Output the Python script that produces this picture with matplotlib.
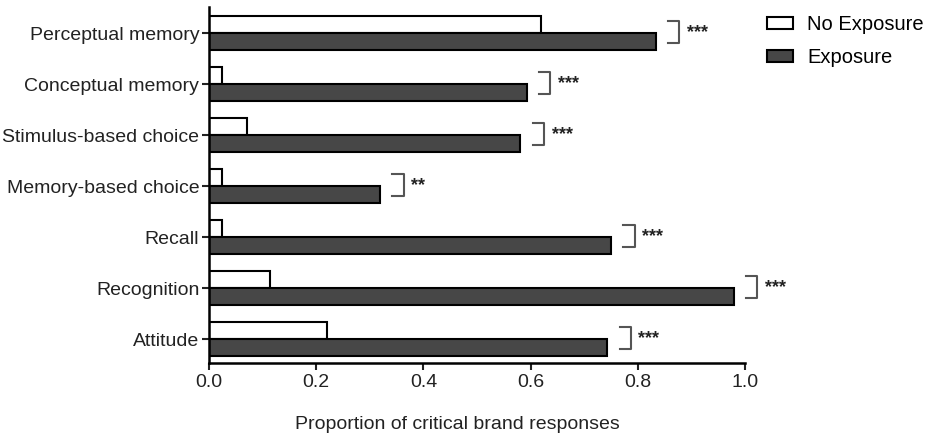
import numpy as np
import matplotlib.pyplot as plt

plt.rcParams['font.family'] = ['Liberation Sans', 'DejaVu Sans']

categories = ["Perceptual memory", "Conceptual memory", "Stimulus-based choice",
              "Memory-based choice", "Recall", "Recognition", "Attitude"]
no_exposure = [0.619, 0.024, 0.071, 0.025, 0.025, 0.114, 0.221]
exposure = [0.833, 0.593, 0.581, 0.319, 0.750, 0.979, 0.743]
stars = ["***", "***", "***", "**", "***", "***", "***"]
xticks = [0.0, 0.2, 0.4, 0.6, 0.8, 1.0]

fig = plt.figure(figsize=(9.29, 4.4), dpi=100)
ax = fig.add_axes([0.225, 0.175, 0.577, 0.809])

y = np.arange(len(categories))[::-1]
h = 0.33
ax.barh(y + h / 2, no_exposure, height=h, color='white', edgecolor='black',
        linewidth=1.5, label='No Exposure')
ax.barh(y - h / 2, exposure, height=h, color='#474747', edgecolor='black',
        linewidth=1.5, label='Exposure')

# significance brackets
for yi, a, b, s in zip(y, no_exposure, exposure, stars):
    x0 = max(a, b) + 0.023
    x1 = x0 + 0.021
    ax.plot([x0, x1, x1, x0], [yi + 0.23, yi + 0.23, yi - 0.2, yi - 0.2],
            color='#555555', lw=1.5, clip_on=False)
    ax.text(x1 + 0.014, yi + 0.0, s, fontsize=13, fontweight='bold',
            va='center', ha='left', color='#222222', clip_on=False)

ax.set_xlim(0, 1.0)
ax.set_ylim(-0.47, 6.51)
ax.set_xticks(xticks)
ax.set_xticklabels([f"{v:.1f}" for v in xticks])
ax.set_yticks(y)
ax.set_yticklabels(categories)
ax.tick_params(axis='both', labelsize=14, width=1.5, length=5, colors='#222222')
ax.tick_params(axis='x', pad=3)
ax.tick_params(axis='y', pad=2)

for side in ['top', 'right']:
    ax.spines[side].set_visible(False)
for side in ['left', 'bottom']:
    ax.spines[side].set_linewidth(1.8)

ax.set_xlabel("Proportion of critical brand responses", fontsize=14, color='#222222')
ax.xaxis.set_label_coords(0.464, -0.15)

fig.legend(loc='upper left', bbox_to_anchor=(757 / 929, 0.988), frameon=False,
           fontsize=14.5, borderpad=0, handlelength=1.3, handleheight=0.55,
           handletextpad=0.7, labelspacing=0.68)

fig.savefig("out.png", dpi=100)
